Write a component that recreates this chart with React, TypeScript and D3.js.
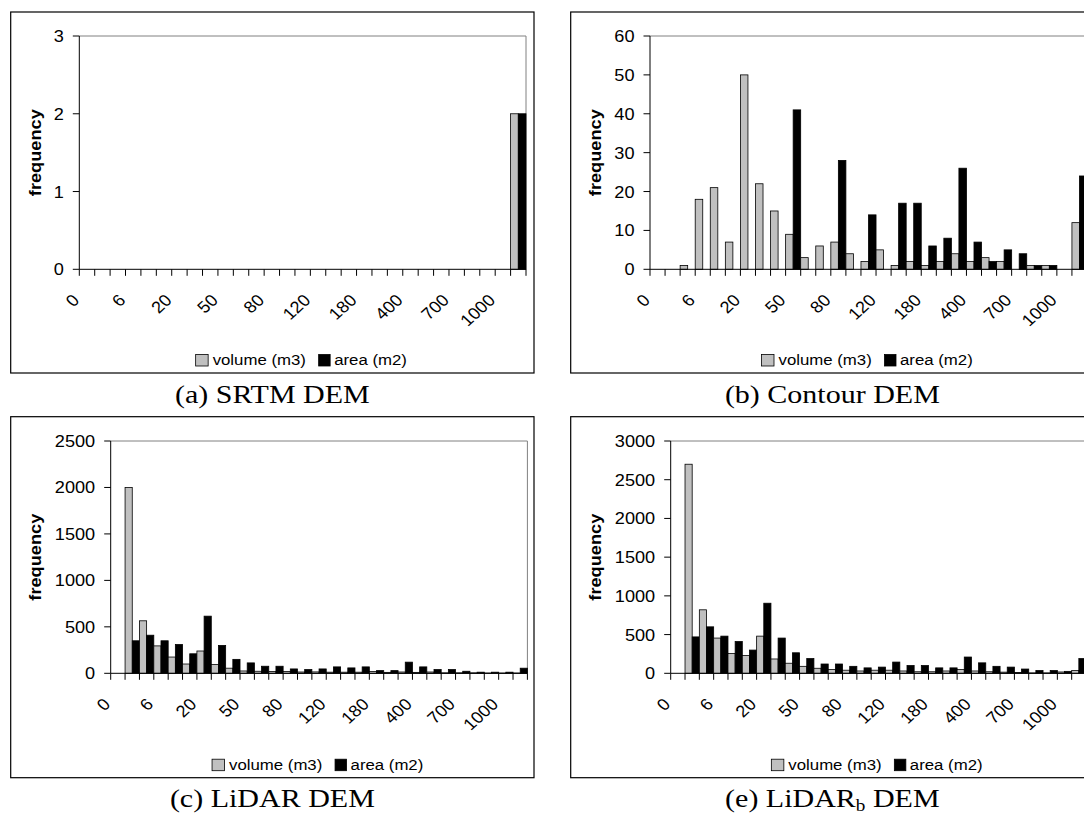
import React from 'react';
import * as d3 from 'd3';

// ---------- data ----------
const categories = ['0','2','4','6','8','10','20','30','40','50','60','70','80','90','100','120','140','160','180','200','300','400','500','600','700','800','900','1000','More'];

const srtmVolume = [0,0,0,0,0,0,0,0,0,0,0,0,0,0,0,0,0,0,0,0,0,0,0,0,0,0,0,0,2];
const srtmArea   = [0,0,0,0,0,0,0,0,0,0,0,0,0,0,0,0,0,0,0,0,0,0,0,0,0,0,0,0,2];

const contourVolume = [0,0,1,18,21,7,50,22,15,9,3,6,7,4,2,5,1,2,1,2,4,2,3,2,0,1,1,0,12];
const contourArea   = [0,0,0,0,0,0,0,0,0,41,0,0,28,0,14,0,17,17,6,8,26,7,2,5,4,1,1,0,24];

const lidarVolume = [0,2000,565,295,175,100,240,95,55,25,22,20,20,14,15,12,12,12,20,10,14,10,14,5,5,5,3,3,3];
const lidarArea   = [0,350,410,350,310,210,615,300,150,112,76,76,47,40,47,69,58,69,29,29,120,69,40,40,22,12,12,12,55];

const lidarbVolume = [0,2700,820,455,255,230,480,185,130,90,65,50,40,30,40,40,30,20,20,30,50,30,20,15,10,5,5,17,35];
const lidarbArea   = [0,470,600,480,410,300,905,455,265,190,120,120,90,70,80,145,100,100,70,70,210,135,90,80,55,35,35,25,190];

const srtmTicks = [0,1,2,3];
const contourTicks = [0,10,20,30,40,50,60];
const lidarTicks = [0,500,1000,1500,2000,2500];
const lidarbTicks = [0,500,1000,1500,2000,2500,3000];

const seriesNames = ['volume (m3)', 'area (m2)'];

// ---------- style ----------
const SANS = '"Liberation Sans", Arial, sans-serif';
const SERIF = '"Liberation Serif", "Times New Roman", serif';
const SX = 1.1;
const TICK_FS = 16.5;
const GRAY = '#c0c0c0';

type Spec = {
  box: [number, number, number, number];
  plot: { left: number; top: number; right: number; bottom: number };
  volume: number[];
  area: number[];
  ticks: number[];
  caption: React.ReactNode;
  labelX: number;
};

const panels: Spec[] = [
  { box: [10.7, 12, 534, 373], plot: { left: 79.3, top: 36, right: 526, bottom: 269.3 }, volume: srtmVolume, area: srtmArea, ticks: srtmTicks, caption: '(a) SRTM DEM', labelX: 35.5 },
  { box: [570.7, 12, 1094, 373], plot: { left: 650, top: 36, right: 1087, bottom: 269.3 }, volume: contourVolume, area: contourArea, ticks: contourTicks, caption: '(b) Contour DEM', labelX: 595 },
  { box: [10.7, 416.7, 534, 777.7], plot: { left: 110.7, top: 441, right: 527.4, bottom: 673.3 }, volume: lidarVolume, area: lidarArea, ticks: lidarTicks, caption: '(c) LiDAR DEM', labelX: 35.5 },
  { box: [570.7, 416.7, 1094, 777.7], plot: { left: 670.7, top: 441, right: 1086, bottom: 673.3 }, volume: lidarbVolume, area: lidarbArea, ticks: lidarbTicks,
    caption: (<>(e) LiDAR<tspan fontSize={16} dy={4}>b</tspan><tspan dy={-4}> DEM</tspan></>), labelX: 595 },
];

function Panel({ s }: { s: Spec }) {
  const { plot, box } = s;
  const x = d3.scaleBand<string>().domain(categories).range([plot.left, plot.right]).paddingInner(0).paddingOuter(0);
  const inner = d3.scaleBand<string>().domain(seriesNames).range([0, x.bandwidth()]).padding(0);
  const y = d3.scaleLinear().domain([0, s.ticks[s.ticks.length - 1]]).range([plot.bottom, plot.top]);
  const boundaries = categories.map(c => x(c) as number).concat([plot.right]);
  const cx = (plot.left + plot.right) / 2;
  const legendY = box[3] - 13;
  const boxCx = (box[0] + box[2]) / 2;

  return (
    <g>
      <rect x={box[0]} y={box[1]} width={box[2] - box[0]} height={box[3] - box[1]} fill="#fff" stroke="#000" strokeWidth={1.2} />
      {/* plot border (top/right gray) */}
      <line x1={plot.left} x2={plot.right} y1={plot.top} y2={plot.top} stroke="#808080" strokeWidth={1} />
      <line x1={plot.right} x2={plot.right} y1={plot.top} y2={plot.bottom} stroke="#808080" strokeWidth={1} />
      {/* bars */}
      {categories.map((c, i) => {
        const x0 = x(c) as number;
        const v = s.volume[i];
        const a = s.area[i];
        return (
          <g key={c}>
            {v > 0 && (
              <rect x={x0 + (inner(seriesNames[0]) as number)} y={y(v)} width={inner.bandwidth()} height={y(0) - y(v)} fill={GRAY} stroke="#000" strokeWidth={0.8} />
            )}
            {a > 0 && (
              <rect x={x0 + (inner(seriesNames[1]) as number)} y={y(a)} width={inner.bandwidth()} height={y(0) - y(a)} fill="#000" stroke="#000" strokeWidth={0.8} />
            )}
          </g>
        );
      })}
      {/* axes */}
      <line x1={plot.left} x2={plot.left} y1={plot.top} y2={plot.bottom} stroke="#000" strokeWidth={1} />
      <line x1={plot.left} x2={plot.right} y1={plot.bottom} y2={plot.bottom} stroke="#000" strokeWidth={1} />
      {s.ticks.map(t => (
        <g key={t}>
          <line x1={plot.left - 6.5} x2={plot.left} y1={y(t)} y2={y(t)} stroke="#000" strokeWidth={1} />
          <text transform={`translate(${plot.left - 15.5},${y(t) + 6}) scale(${SX},1)`} textAnchor="end" fontFamily={SANS} fontSize={TICK_FS} fill="#000">{t}</text>
        </g>
      ))}
      {boundaries.map((b, i) => (
        <line key={i} x1={b} x2={b} y1={plot.bottom} y2={plot.bottom + 6.5} stroke="#000" strokeWidth={1} />
      ))}
      {categories.map((c, i) => i % 3 === 0 ? (
        <text key={c} transform={`translate(${(x(c) as number) + x.bandwidth() / 2 - 6.5},${plot.bottom + 32}) scale(${SX},1) rotate(-45)`} textAnchor="end" fontFamily={SANS} fontSize={TICK_FS} fill="#000">{c}</text>
      ) : null)}
      {/* y label */}
      <text transform={`translate(${s.labelX + 5.5},${(plot.top + plot.bottom) / 2}) rotate(-90)`} textAnchor="middle" fontFamily={SANS} fontWeight="bold" fontSize={16} textLength={87} lengthAdjust="spacingAndGlyphs" fill="#000">frequency</text>
      {/* legend */}
      <rect x={cx - 107} y={legendY - 5.5} width={12.5} height={11.5} fill={GRAY} stroke="#000" strokeWidth={0.8} />
      <text transform={`translate(${cx - 90},${legendY + 5}) scale(1.12,1)`} fontFamily={SANS} fontSize={15} fill="#000">{seriesNames[0]}</text>
      <rect x={cx + 16} y={legendY - 5.5} width={11.5} height={11.5} fill="#000" stroke="#000" strokeWidth={0.8} />
      <text transform={`translate(${cx + 31.5},${legendY + 5}) scale(1.12,1)`} fontFamily={SANS} fontSize={15} fill="#000">{seriesNames[1]}</text>
      {/* caption */}
      <text transform={`translate(${boxCx},${box[3] + 29.5}) scale(1.2,1)`} textAnchor="middle" fontFamily={SERIF} fontSize={25} fill="#000">{s.caption}</text>
    </g>
  );
}

export default function App() {
  return (
    <svg width={1084} height={815} style={{ position: 'absolute', left: 0, top: 0, background: '#fff' }}>
      <rect x={0} y={0} width={1084} height={815} fill="#fff" />
      {panels.map((p, i) => <Panel key={i} s={p} />)}
    </svg>
  );
}
